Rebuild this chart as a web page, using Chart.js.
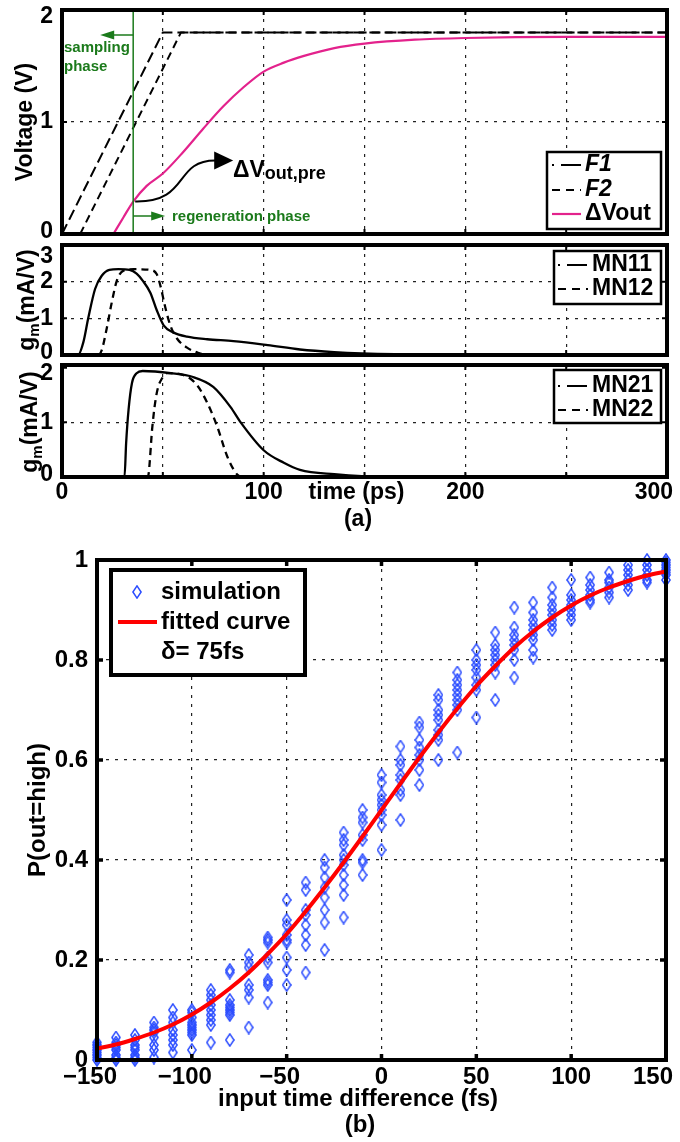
<!DOCTYPE html>
<html>
<head>
<meta charset="utf-8">
<script src="https://cdn.jsdelivr.net/npm/chart.js@4.4.1/dist/chart.umd.min.js"></script>
<style>
  body { margin: 0; background: #fff; }
  #fig { position: relative; width: 680px; height: 1142px; background: #fff; }
  #fig canvas { position: absolute; left: 0; }
</style>
</head>
<body>
<div id="fig">
  <canvas id="volt" width="680" height="240" style="top:0px"></canvas>
  <canvas id="gm1" width="680" height="123" style="top:237px"></canvas>
  <canvas id="gm2" width="680" height="180" style="top:360px"></canvas>
  <canvas id="prob" width="680" height="602" style="top:540px"></canvas>
</div>
<script>
// ---- data (a): clocks and output voltage, time in ps ----
var tF1 = [0, 50, 300];
var vF1 = [0, 1.8, 1.8];
var tF2 = [9, 59, 300];
var vF2 = [0, 1.8, 1.8];
var tOut = [25.5, 30.5, 35.3, 42, 50, 60, 70, 80, 90, 100, 110, 120, 135, 150, 175, 200, 250, 300];
var vOut = [0, 0.15, 0.29, 0.43, 0.54, 0.73, 0.94, 1.14, 1.31, 1.45, 1.53, 1.59, 1.66, 1.70, 1.735, 1.75, 1.76, 1.76];
var tSwitch = 35.3;   // end of sampling phase
var vPre = 0.29;      // ΔVout at end of sampling phase

// gm of MN11 / MN12 (mA/V)
var tMN11 = [0, 8, 10.6, 13, 16.4, 19.7, 23.5, 28, 33.5, 37, 40, 43.8, 47, 50.4, 55.4, 62, 72, 85, 102, 118, 135, 165, 200, 300];
var gMN11 = [0, 0, 0.35, 1.0, 1.8, 2.16, 2.32, 2.34, 2.32, 2.22, 2.03, 1.7, 1.22, 0.81, 0.61, 0.5, 0.43, 0.38, 0.27, 0.15, 0.08, 0.02, 0, 0];
var tMN12 = [0, 18, 19.7, 22.2, 24.7, 27.2, 30.5, 35.5, 43.8, 47, 48.8, 51.2, 53.7, 57, 62, 67, 72, 300];
var gMN12 = [0, 0, 0.13, 0.73, 1.44, 2.03, 2.3, 2.34, 2.32, 2.2, 1.89, 1.3, 0.81, 0.45, 0.2, 0.07, 0, 0];

// gm of MN21 / MN22 (mA/V)
var tMN21 = [0, 31, 31.8, 33, 34.7, 37, 40, 54, 65, 75, 83.6, 88.6, 100, 110, 118, 135, 160, 300];
var gMN21 = [0, 0, 0.62, 1.23, 1.72, 1.9, 1.94, 1.9, 1.83, 1.65, 1.28, 1.0, 0.49, 0.26, 0.13, 0.05, 0, 0];
var tMN22 = [0, 42.5, 43, 44.8, 47, 50, 52, 60, 67, 72, 77, 82, 87, 90, 300];
var gMN22 = [0, 0, 0.07, 0.92, 1.54, 1.83, 1.9, 1.87, 1.68, 1.36, 0.92, 0.37, 0.04, 0, 0];

var timeGrid = [0, 50, 100, 150, 200, 250, 300];
var timeLabels = [0, 100, 200, 300];

// ---- data (b): probability vs input time difference (fs) ----
var simX = [-150, -140, -130, -120, -110, -100, -90, -80, -70, -60, -50, -40, -30, -20, -10, 0,
            10, 20, 30, 40, 50, 60, 70, 80, 90, 100, 110, 120, 130, 140, 150];
var simY = [
  [0, 0.005, 0.01, 0.015, 0.02, 0.025, 0.03, 0.035],
  [0.045, 0.035, 0.03, 0.025, 0.02, 0.01, 0.005, 0],
  [0.05, 0.04, 0.03, 0.025, 0.02, 0.01, 0.005, 0],
  [0.075, 0.065, 0.06, 0.055, 0.045, 0.03, 0.02, 0.005],
  [0.1, 0.085, 0.075, 0.06, 0.05, 0.04, 0.03, 0.015],
  [0.1, 0.095, 0.085, 0.075, 0.07, 0.065, 0.06, 0.055, 0.05, 0.02],
  [0.14, 0.13, 0.12, 0.11, 0.1, 0.09, 0.08, 0.07, 0.035],
  [0.18, 0.175, 0.12, 0.11, 0.105, 0.1, 0.095, 0.09, 0.04],
  [0.21, 0.195, 0.185, 0.15, 0.14, 0.125, 0.065],
  [0.245, 0.24, 0.235, 0.205, 0.195, 0.16, 0.155, 0.15, 0.115],
  [0.32, 0.28, 0.27, 0.25, 0.24, 0.235, 0.205, 0.18, 0.15],
  [0.355, 0.34, 0.3, 0.29, 0.27, 0.25, 0.23, 0.175],
  [0.4, 0.385, 0.365, 0.345, 0.325, 0.3, 0.275, 0.22],
  [0.455, 0.44, 0.43, 0.41, 0.4, 0.39, 0.37, 0.35, 0.33, 0.285],
  [0.5, 0.485, 0.475, 0.45, 0.44, 0.4, 0.395, 0.37],
  [0.57, 0.555, 0.53, 0.52, 0.51, 0.5, 0.49, 0.47, 0.42],
  [0.627, 0.6, 0.59, 0.57, 0.56, 0.54, 0.53, 0.48],
  [0.675, 0.665, 0.64, 0.625, 0.61, 0.6, 0.58, 0.55],
  [0.73, 0.72, 0.7, 0.69, 0.68, 0.66, 0.65, 0.64, 0.6],
  [0.775, 0.76, 0.75, 0.74, 0.73, 0.72, 0.71, 0.7, 0.615],
  [0.82, 0.8, 0.79, 0.78, 0.765, 0.75, 0.74, 0.685],
  [0.855, 0.83, 0.82, 0.81, 0.8, 0.79, 0.775, 0.72],
  [0.905, 0.865, 0.85, 0.84, 0.83, 0.82, 0.8, 0.765],
  [0.915, 0.895, 0.88, 0.87, 0.86, 0.85, 0.84, 0.82, 0.805],
  [0.945, 0.925, 0.91, 0.9, 0.89, 0.88, 0.87, 0.86],
  [0.96, 0.93, 0.92, 0.91, 0.9, 0.89, 0.88],
  [0.965, 0.95, 0.94, 0.93, 0.92, 0.915],
  [0.975, 0.96, 0.955, 0.945, 0.935, 0.925],
  [0.99, 0.98, 0.97, 0.96, 0.95, 0.94],
  [1.0, 0.99, 0.98, 0.97, 0.96, 0.955],
  [1.0, 0.995, 0.99, 0.985, 0.98, 0.975, 0.97, 0.96]
];
var fitY = [0.023, 0.031, 0.042, 0.055, 0.071, 0.091, 0.115, 0.143, 0.175, 0.212, 0.252, 0.297, 0.345, 0.395, 0.447, 0.5,
            0.553, 0.605, 0.655, 0.703, 0.748, 0.788, 0.825, 0.857, 0.885, 0.909, 0.929, 0.945, 0.958, 0.969, 0.977];
var diffTicks = [-150, -100, -50, 0, 50, 100, 150];
var probTicks = [0, 0.2, 0.4, 0.6, 0.8, 1];

// ---- helpers ----
var FONT = '"Liberation Sans", Arial, sans-serif';
var GREEN = '#1b7a1b';
var MAGENTA = '#e3228c';
var BLUE = '#2a4cff';

function setFont(ctx, size, italic) {
  ctx.font = (italic ? 'italic ' : '') + 'bold ' + size + 'px ' + FONT;
}
function pts(xs, ys) {
  return xs.map(function (x, i) { return { x: x, y: ys[i] }; });
}
function fixTicks(list) {
  return function (scale) { scale.ticks = list.map(function (v) { return { value: v }; }); };
}
function fixSize(w, h) {
  return function (scale) {
    if (w != null) scale.width = w;
    if (h != null) scale.height = h;
    scale.paddingTop = scale.paddingBottom = scale.paddingLeft = scale.paddingRight = 0;
  };
}
var gridOpts = { color: '#222', lineWidth: 1.2, drawTicks: false };
var borderOpts = { display: false, dash: [3, 6] };

function diamond() {
  var c = document.createElement('canvas');
  c.width = 10; c.height = 14;
  var g = c.getContext('2d');
  g.strokeStyle = BLUE; g.lineWidth = 1.5;
  g.beginPath();
  g.moveTo(5, 0.9); g.lineTo(9.1, 7); g.lineTo(5, 13.1); g.lineTo(0.9, 7);
  g.closePath(); g.stroke();
  return c;
}
var diamondImg = diamond();

function frame(tickLen, tickW, extra) {
  return {
    id: 'frame',
    afterDraw: function (chart) {
      var ctx = chart.ctx, a = chart.chartArea;
      var xs = chart.scales.x, ys = chart.scales.y;
      ctx.save();
      ctx.strokeStyle = '#000';
      ctx.lineWidth = tickW;
      ctx.beginPath();
      xs.ticks.forEach(function (t) {
        var p = xs.getPixelForValue(t.value);
        ctx.moveTo(p, a.top); ctx.lineTo(p, a.top + tickLen);
        ctx.moveTo(p, a.bottom); ctx.lineTo(p, a.bottom - tickLen);
      });
      ys.ticks.forEach(function (t) {
        var p = ys.getPixelForValue(t.value);
        ctx.moveTo(a.left, p); ctx.lineTo(a.left + tickLen, p);
        ctx.moveTo(a.right, p); ctx.lineTo(a.right - tickLen, p);
      });
      ctx.stroke();
      if (extra) extra(chart, ctx, a);
      ctx.strokeStyle = '#000';
      ctx.setLineDash([]);
      ctx.lineWidth = 4;
      ctx.strokeRect(a.left, a.top, a.right - a.left, a.bottom - a.top);
      ctx.restore();
    }
  };
}

// y tick labels of the (a) panels; the top one sits a little inside the box
function yLabels(chart, ctx, a, topShift) {
  var ys = chart.scales.y;
  setFont(ctx, 23);
  ctx.fillStyle = '#000'; ctx.textAlign = 'right'; ctx.textBaseline = 'middle';
  ys.ticks.forEach(function (t, i) {
    var p = ys.getPixelForValue(t.value);
    if (i === ys.ticks.length - 1) p += topShift;
    if (i === 0) p -= 2;
    ctx.fillText(String(t.value), a.left - 9, p);
  });
}

function drawLegend(ctx, box, rows) {
  ctx.save();
  ctx.fillStyle = '#fff';
  ctx.fillRect(box.x, box.y, box.w, box.h);
  ctx.strokeStyle = '#000';
  ctx.lineWidth = box.lw;
  ctx.strokeRect(box.x, box.y, box.w, box.h);
  rows.forEach(function (r) {
    if (r.color) {
      ctx.strokeStyle = r.color;
      ctx.lineWidth = r.width;
      ctx.setLineDash(r.dash || []);
      ctx.beginPath(); ctx.moveTo(r.x1, r.y); ctx.lineTo(r.x2, r.y); ctx.stroke();
      ctx.setLineDash([]);
    }
    if (r.marker) ctx.drawImage(r.marker, r.mx - r.marker.width / 2, r.y - r.marker.height / 2);
    setFont(ctx, r.size, r.italic);
    ctx.fillStyle = '#000';
    ctx.textAlign = 'left';
    ctx.textBaseline = 'middle';
    ctx.fillText(r.text, r.tx, r.y);
  });
  ctx.restore();
}

function rotatedText(ctx, s, cx, cy, size) {
  ctx.save();
  ctx.translate(cx, cy);
  ctx.rotate(-Math.PI / 2);
  setFont(ctx, size);
  ctx.fillStyle = '#000';
  ctx.textAlign = 'center';
  ctx.textBaseline = 'middle';
  ctx.fillText(s, 0, 0);
  ctx.restore();
}

function gmTitle(ctx, cx, cy) {
  ctx.save();
  ctx.translate(cx, cy);
  ctx.rotate(-Math.PI / 2);
  ctx.fillStyle = '#000';
  ctx.textBaseline = 'alphabetic';
  ctx.textAlign = 'left';
  setFont(ctx, 23); var wg = ctx.measureText('g').width; var wr = ctx.measureText('(mA/V)').width;
  setFont(ctx, 15); var wm = ctx.measureText('m').width;
  var x0 = -(wg + wm + wr) / 2;
  setFont(ctx, 23); ctx.fillText('g', x0, 8);
  setFont(ctx, 15); ctx.fillText('m', x0 + wg, 13);
  setFont(ctx, 23); ctx.fillText('(mA/V)', x0 + wg + wm, 8);
  ctx.restore();
}

function hArrow(ctx, x1, x2, y, color) {
  var dir = x2 > x1 ? 1 : -1;
  ctx.strokeStyle = color; ctx.fillStyle = color; ctx.lineWidth = 1.5;
  ctx.beginPath(); ctx.moveTo(x1, y); ctx.lineTo(x2 - dir * 12, y); ctx.stroke();
  ctx.beginPath(); ctx.moveTo(x2, y); ctx.lineTo(x2 - dir * 14, y - 4.5); ctx.lineTo(x2 - dir * 14, y + 4.5);
  ctx.closePath(); ctx.fill();
}

function timeScale(h) {
  return {
    type: 'linear', min: 0, max: 300,
    afterBuildTicks: fixTicks(timeGrid), afterFit: fixSize(null, h),
    ticks: { display: false }, grid: gridOpts, border: borderOpts
  };
}
function valueScale(min, max, list, gridAt) {
  var grid = gridOpts;
  if (gridAt) {
    grid = Object.assign({}, gridOpts, {
      color: function (c) { return c.tick && gridAt.indexOf(c.tick.value) < 0 ? 'rgba(0,0,0,0)' : '#222'; }
    });
  }
  return {
    type: 'linear', min: min, max: max,
    afterBuildTicks: fixTicks(list), afterFit: fixSize(62, null),
    ticks: { display: false }, grid: grid, border: borderOpts
  };
}
function lineSet(label, xs, ys, color, dash, width, mode) {
  return {
    label: label, data: pts(xs, ys), borderColor: color, borderWidth: width,
    borderDash: dash, pointRadius: 0, fill: false,
    cubicInterpolationMode: mode ? 'monotone' : 'default', tension: 0
  };
}
var common = {
  responsive: false, animation: false, events: [],
  plugins: { legend: { display: false }, tooltip: { enabled: false } }
};
function opts(pad, scales) {
  return Object.assign({}, common, { layout: { padding: pad }, scales: scales });
}

// ---- (a) voltage panel ----
new Chart(document.getElementById('volt').getContext('2d'), {
  type: 'line',
  data: {
    datasets: [
      lineSet('F1', tF1, vF1, '#000', [11, 5], 2, false),
      lineSet('F2', tF2, vF2, '#000', [8, 5], 2, false),
      lineSet('ΔVout', tOut, vOut, MAGENTA, [], 2.2, true)
    ]
  },
  options: opts({ top: 10, right: 13, bottom: 6, left: 0 }, {
    x: timeScale(0), y: valueScale(0, 2, [0, 1, 2])
  }),
  plugins: [frame(5, 2, function (chart, ctx, a) {
    var xs = chart.scales.x, ys = chart.scales.y;
    yLabels(chart, ctx, a, 7);
    var gx = xs.getPixelForValue(tSwitch);
    ctx.strokeStyle = GREEN; ctx.lineWidth = 1.5;
    ctx.beginPath(); ctx.moveTo(gx, a.top); ctx.lineTo(gx, a.bottom); ctx.stroke();
    hArrow(ctx, gx, gx - 33, 35, GREEN);
    hArrow(ctx, gx, gx + 32, 216, GREEN);
    setFont(ctx, 15); ctx.fillStyle = GREEN; ctx.textAlign = 'left'; ctx.textBaseline = 'middle';
    ctx.fillText('sampling', 64, 48);
    ctx.fillText('phase', 64, 67);
    ctx.fillText('regeneration phase', 172, 217);
    // ΔVout,pre pointer
    var px = gx + 2, py = ys.getPixelForValue(vPre);
    ctx.strokeStyle = '#000'; ctx.fillStyle = '#000'; ctx.lineWidth = 2;
    ctx.beginPath(); ctx.moveTo(px, py);
    ctx.bezierCurveTo(px + 55, py + 1, px + 38, py - 41, px + 80, py - 41);
    ctx.stroke();
    ctx.beginPath(); ctx.moveTo(px + 98, py - 41); ctx.lineTo(px + 79, py - 50); ctx.lineTo(px + 79, py - 32);
    ctx.closePath(); ctx.fill();
    setFont(ctx, 23); ctx.textBaseline = 'alphabetic';
    ctx.fillText('ΔV', 233, 177);
    var w = ctx.measureText('ΔV').width;
    setFont(ctx, 18); ctx.fillText('out,pre', 233 + w, 179);
    rotatedText(ctx, 'Voltage (V)', 26, 122, 23);
    var ds = chart.data.datasets;
    drawLegend(ctx, { x: 547, y: 152, w: 114, h: 77, lw: 2.5 }, [
      { text: ds[0].label, italic: true, size: 23, y: 165, tx: 585, x1: 552, x2: 581, color: '#000', width: 2, dash: [2, 7, 20, 4] },
      { text: ds[1].label, italic: true, size: 23, y: 190, tx: 585, x1: 552, x2: 581, color: '#000', width: 2, dash: [8, 6] },
      { text: ds[2].label, size: 23, y: 214, tx: 585, x1: 552, x2: 581, color: MAGENTA, width: 2.2 }
    ]);
  })]
});

// ---- (a) gm MN11 / MN12 ----
new Chart(document.getElementById('gm1').getContext('2d'), {
  type: 'line',
  data: {
    datasets: [
      lineSet('MN11', tMN11, gMN11, '#000', [], 2.3, true),
      lineSet('MN12', tMN12, gMN12, '#000', [7, 5], 2.3, true)
    ]
  },
  options: opts({ top: 8, right: 13, bottom: 5, left: 0 }, {
    x: timeScale(0), y: valueScale(0, 3, [0, 1, 2, 3])
  }),
  plugins: [frame(5, 2, function (chart, ctx, a) {
    yLabels(chart, ctx, a, 12);
    gmTitle(ctx, 26, 63);
    var ds = chart.data.datasets;
    drawLegend(ctx, { x: 554, y: 14, w: 107, h: 53, lw: 2.5 }, [
      { text: ds[0].label, size: 23, y: 28, tx: 592, x1: 558, x2: 588, color: '#000', width: 2, dash: [2, 7, 20, 4] },
      { text: ds[1].label, size: 23, y: 52, tx: 592, x1: 558, x2: 588, color: '#000', width: 2, dash: [8, 6] }
    ]);
  })]
});

// ---- (a) gm MN21 / MN22 ----
new Chart(document.getElementById('gm2').getContext('2d'), {
  type: 'line',
  data: {
    datasets: [
      lineSet('MN21', tMN21, gMN21, '#000', [], 2.3, true),
      lineSet('MN22', tMN22, gMN22, '#000', [7, 5], 2.3, true)
    ]
  },
  options: opts({ top: 5, right: 13, bottom: 0, left: 0 }, {
    x: timeScale(63), y: valueScale(0, 2.05, [0, 1, 2], [1])
  }),
  plugins: [frame(5, 2, function (chart, ctx, a) {
    var xs = chart.scales.x;
    yLabels(chart, ctx, a, 6);
    gmTitle(ctx, 29, 62);
    setFont(ctx, 23); ctx.fillStyle = '#000'; ctx.textBaseline = 'middle'; ctx.textAlign = 'left';
    timeLabels.forEach(function (v) {
      var s = String(v), w = ctx.measureText(s).width;
      var left = xs.getPixelForValue(v) - w / 2;
      if (left + w > chart.width - 7) left = chart.width - 7 - w;
      ctx.fillText(s, left, a.bottom + 16);
    });
    ctx.textAlign = 'center';
    ctx.fillText('time (ps)', xs.getPixelForValue(150) - 8, a.bottom + 16);
    ctx.fillText('(a)', 358, a.bottom + 43);
    var ds = chart.data.datasets;
    drawLegend(ctx, { x: 554, y: 10, w: 107, h: 53, lw: 2.5 }, [
      { text: ds[0].label, size: 23, y: 26, tx: 592, x1: 558, x2: 588, color: '#000', width: 2, dash: [2, 7, 20, 4] },
      { text: ds[1].label, size: 23, y: 50, tx: 592, x1: 558, x2: 588, color: '#000', width: 2, dash: [8, 6] }
    ]);
  })]
});

// ---- (b) probability panel ----
var simPoints = [];
simX.forEach(function (x, i) {
  simY[i].forEach(function (y) { simPoints.push({ x: x, y: y }); });
});

new Chart(document.getElementById('prob').getContext('2d'), {
  type: 'scatter',
  data: {
    datasets: [
      {
        label: 'fitted curve', data: pts(simX, fitY), showLine: true, borderColor: '#ff0000',
        borderWidth: 4, pointRadius: 0, cubicInterpolationMode: 'monotone', fill: false
      },
      {
        label: 'simulation', data: simPoints, pointStyle: diamondImg, pointRadius: 5,
        borderColor: BLUE, backgroundColor: 'rgba(0,0,0,0)', clip: false
      }
    ]
  },
  options: opts({ top: 20, right: 14, bottom: 0, left: 0 }, {
    x: {
      type: 'linear', min: -150, max: 150,
      afterBuildTicks: fixTicks(diffTicks), afterFit: fixSize(null, 82),
      ticks: { display: false }, grid: gridOpts, border: borderOpts
    },
    y: {
      type: 'linear', min: 0, max: 1,
      afterBuildTicks: fixTicks(probTicks), afterFit: fixSize(97, null),
      ticks: {
        color: '#000', padding: 9, font: { family: FONT, weight: 'bold', size: 24 },
        callback: function (v) { return String(v); }
      },
      grid: gridOpts, border: borderOpts
    }
  }),
  plugins: [frame(6, 3.5, function (chart, ctx, a) {
    var xs = chart.scales.x;
    setFont(ctx, 24); ctx.fillStyle = '#000'; ctx.textBaseline = 'middle';
    diffTicks.forEach(function (v) {
      var s = String(Math.abs(v)), w = ctx.measureText(s).width;
      var left = xs.getPixelForValue(v) - w / 2;
      if (left + w > chart.width - 7) left = chart.width - 7 - w;
      ctx.textAlign = 'left';
      ctx.fillText(s, left, a.bottom + 17);
      if (v < 0) { ctx.textAlign = 'right'; ctx.fillText('\u2212', left, a.bottom + 17); }
    });
    ctx.textAlign = 'center';
    ctx.fillText('input time difference (fs)', 358, a.bottom + 39);
    ctx.fillText('(b)', 360, a.bottom + 65);
    rotatedText(ctx, 'P(out=high)', 38, (a.top + a.bottom) / 2, 24);
    var ds = chart.data.datasets;
    drawLegend(ctx, { x: 111, y: 30, w: 194, h: 105, lw: 4 }, [
      { text: ds[1].label, size: 24, y: 52, tx: 161, marker: diamondImg, mx: 137 },
      { text: ds[0].label, size: 24, y: 82, tx: 161, x1: 118, x2: 157, color: '#ff0000', width: 4 },
      { text: 'δ= 75fs', size: 24, y: 112, tx: 161 }
    ]);
  })]
});
</script>
</body>
</html>
